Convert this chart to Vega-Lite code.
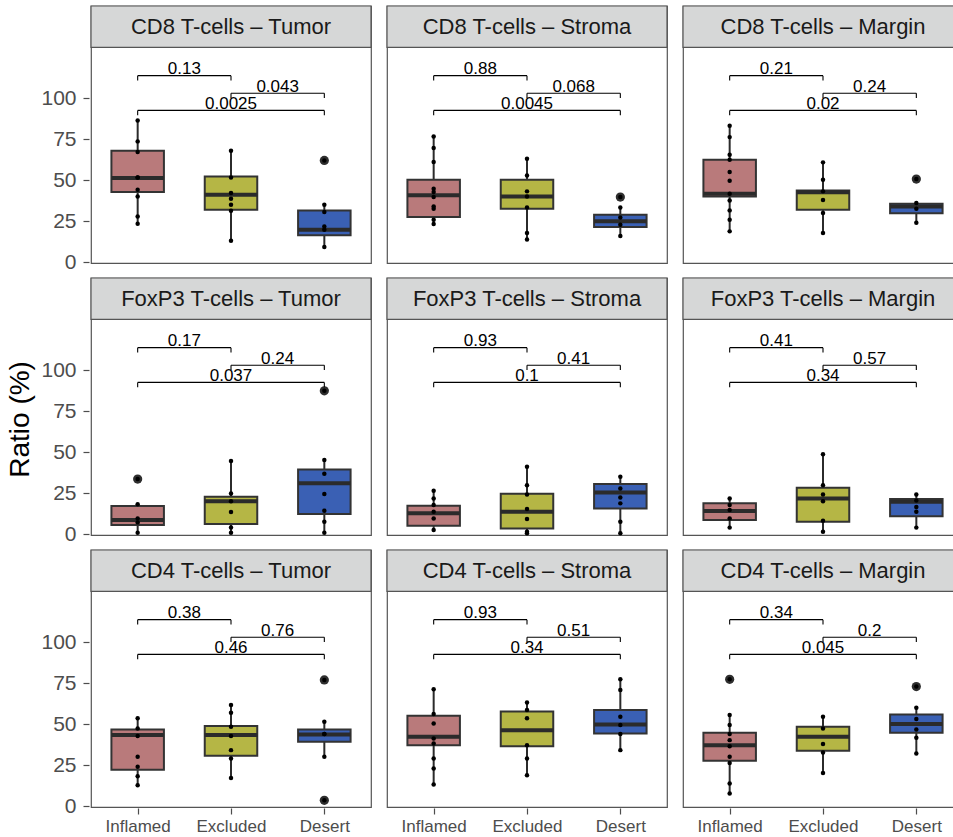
{
  "$schema": "https://vega.github.io/schema/vega-lite/v6.json",
  "background": "white",
  "padding": {"left": 6, "top": 4, "right": 0, "bottom": 0},
  "title": {"text": "Ratio (%)", "orient": "left", "anchor": "middle", "fontSize": 28, "fontWeight": "normal", "color": "#000000", "offset": 6},
  "data": {
    "values": [
      {"panel": "CD8 T-cells – Tumor", "kind": "box", "group": "Inflamed", "lower": 23.4, "q1": 42.7, "median": 51.2, "q3": 67.9, "upper": 86.4, "points": [86.4, 73.6, 67.1, 51.6, 51.6, 44.1, 40.0, 27.8, 23.4], "outliers": []},
      {"panel": "CD8 T-cells – Tumor", "kind": "box", "group": "Excluded", "lower": 13.0, "q1": 31.9, "median": 41.1, "q3": 52.2, "upper": 67.9, "points": [67.9, 51.6, 42.1, 38.6, 35.0, 31.3, 13.0], "outliers": []},
      {"panel": "CD8 T-cells – Tumor", "kind": "box", "group": "Desert", "lower": 9.1, "q1": 16.3, "median": 19.7, "q3": 31.5, "upper": 35.0, "points": [62.0, 35.0, 30.5, 21.7, 19.7, 9.1], "outliers": [62.0]},

      {"panel": "CD8 T-cells – Stroma", "kind": "box", "group": "Inflamed", "lower": 23.2, "q1": 27.4, "median": 40.7, "q3": 50.2, "upper": 76.6, "points": [76.6, 69.5, 61.0, 44.7, 42.7, 39.6, 33.9, 32.5, 25.8, 23.2], "outliers": []},
      {"panel": "CD8 T-cells – Stroma", "kind": "box", "group": "Excluded", "lower": 13.8, "q1": 32.5, "median": 40.0, "q3": 50.2, "upper": 63.0, "points": [63.0, 52.8, 43.1, 40.0, 33.3, 17.7, 13.8], "outliers": []},
      {"panel": "CD8 T-cells – Stroma", "kind": "box", "group": "Desert", "lower": 15.9, "q1": 21.3, "median": 24.8, "q3": 28.9, "upper": 33.3, "points": [39.6, 33.3, 27.2, 22.8, 15.9], "outliers": [39.6]},

      {"panel": "CD8 T-cells – Margin", "kind": "box", "group": "Inflamed", "lower": 18.7, "q1": 40.0, "median": 41.7, "q3": 62.4, "upper": 83.1, "points": [83.1, 76.2, 65.4, 62.4, 54.9, 49.6, 41.7, 37.6, 31.5, 25.8, 18.7], "outliers": []},
      {"panel": "CD8 T-cells – Margin", "kind": "box", "group": "Excluded", "lower": 17.7, "q1": 31.9, "median": 42.5, "q3": 43.7, "upper": 60.8, "points": [60.8, 50.2, 43.1, 37.8, 29.9, 17.7], "outliers": []},
      {"panel": "CD8 T-cells – Margin", "kind": "box", "group": "Desert", "lower": 24.0, "q1": 29.7, "median": 33.9, "q3": 35.6, "upper": 36.0, "points": [50.6, 36.0, 32.5, 24.0], "outliers": [50.6]},

      {"panel": "FoxP3 T-cells – Tumor", "kind": "box", "group": "Inflamed", "lower": 0.8, "q1": 5.5, "median": 8.5, "q3": 17.1, "upper": 18.1, "points": [33.5, 18.1, 9.5, 7.1, 0.8], "outliers": [33.5]},
      {"panel": "FoxP3 T-cells – Tumor", "kind": "box", "group": "Excluded", "lower": 0.8, "q1": 6.1, "median": 20.0, "q3": 22.8, "upper": 44.5, "points": [44.5, 24.7, 20.0, 13.4, 4.0, 0.8], "outliers": []},
      {"panel": "FoxP3 T-cells – Tumor", "kind": "box", "group": "Desert", "lower": 0.8, "q1": 12.2, "median": 30.9, "q3": 39.4, "upper": 45.1, "points": [87.4, 45.1, 36.8, 24.4, 14.2, 7.5, 0.8], "outliers": [87.4]},

      {"panel": "FoxP3 T-cells – Stroma", "kind": "box", "group": "Inflamed", "lower": 2.4, "q1": 5.1, "median": 12.6, "q3": 17.3, "upper": 26.4, "points": [26.4, 21.7, 17.7, 13.6, 9.5, 2.4], "outliers": []},
      {"panel": "FoxP3 T-cells – Stroma", "kind": "box", "group": "Excluded", "lower": 0.4, "q1": 3.4, "median": 13.6, "q3": 24.5, "upper": 41.0, "points": [41.0, 29.8, 24.1, 15.2, 9.1, 1.4, 0.4], "outliers": []},
      {"panel": "FoxP3 T-cells – Stroma", "kind": "box", "group": "Desert", "lower": 0.4, "q1": 15.6, "median": 25.4, "q3": 30.5, "upper": 35.0, "points": [35.0, 27.8, 22.3, 18.7, 7.5, 0.4], "outliers": []},

      {"panel": "FoxP3 T-cells – Margin", "kind": "box", "group": "Inflamed", "lower": 3.9, "q1": 8.5, "median": 14.0, "q3": 18.7, "upper": 21.7, "points": [21.7, 17.7, 14.6, 9.5, 3.9], "outliers": []},
      {"panel": "FoxP3 T-cells – Margin", "kind": "box", "group": "Excluded", "lower": 1.4, "q1": 7.5, "median": 21.7, "q3": 28.2, "upper": 48.7, "points": [48.7, 29.8, 24.1, 20.0, 8.1, 1.4], "outliers": []},
      {"panel": "FoxP3 T-cells – Margin", "kind": "box", "group": "Desert", "lower": 3.9, "q1": 10.9, "median": 19.7, "q3": 21.3, "upper": 24.1, "points": [24.1, 20.5, 16.5, 13.6, 3.9], "outliers": []},

      {"panel": "CD4 T-cells – Tumor", "kind": "box", "group": "Inflamed", "lower": 12.7, "q1": 22.2, "median": 43.3, "q3": 46.7, "upper": 53.5, "points": [53.5, 47.3, 42.7, 30.0, 23.9, 18.2, 12.7], "outliers": []},
      {"panel": "CD4 T-cells – Tumor", "kind": "box", "group": "Excluded", "lower": 17.1, "q1": 30.6, "median": 43.3, "q3": 48.8, "upper": 61.6, "points": [61.6, 56.9, 48.4, 42.7, 34.1, 29.0, 17.1], "outliers": []},
      {"panel": "CD4 T-cells – Tumor", "kind": "box", "group": "Desert", "lower": 30.0, "q1": 39.2, "median": 43.7, "q3": 46.7, "upper": 51.4, "points": [76.9, 51.4, 43.9, 43.9, 30.0, 3.5], "outliers": [76.9, 3.5]},

      {"panel": "CD4 T-cells – Stroma", "kind": "box", "group": "Inflamed", "lower": 13.1, "q1": 37.1, "median": 42.2, "q3": 55.1, "upper": 71.2, "points": [71.2, 56.1, 50.4, 41.2, 38.2, 29.0, 22.9, 13.1], "outliers": []},
      {"panel": "CD4 T-cells – Stroma", "kind": "box", "group": "Excluded", "lower": 18.8, "q1": 36.5, "median": 46.3, "q3": 57.6, "upper": 63.1, "points": [63.1, 58.6, 53.5, 37.1, 29.0, 18.8], "outliers": []},
      {"panel": "CD4 T-cells – Stroma", "kind": "box", "group": "Desert", "lower": 34.1, "q1": 44.3, "median": 49.8, "q3": 58.6, "upper": 77.3, "points": [77.3, 70.8, 54.5, 49.4, 43.9, 34.1], "outliers": []},

      {"panel": "CD4 T-cells – Margin", "kind": "box", "group": "Inflamed", "lower": 7.6, "q1": 27.6, "median": 37.1, "q3": 44.7, "upper": 55.5, "points": [77.3, 55.5, 49.4, 43.9, 40.2, 36.5, 30.0, 26.3, 13.7, 7.6], "outliers": [77.3]},
      {"panel": "CD4 T-cells – Margin", "kind": "box", "group": "Excluded", "lower": 20.2, "q1": 33.7, "median": 42.2, "q3": 48.4, "upper": 54.5, "points": [54.5, 47.3, 37.8, 32.7, 20.2], "outliers": []},
      {"panel": "CD4 T-cells – Margin", "kind": "box", "group": "Desert", "lower": 32.0, "q1": 44.7, "median": 50.0, "q3": 55.9, "upper": 60.0, "points": [72.9, 60.0, 53.1, 46.7, 41.6, 32.0], "outliers": [72.9]},

      {"panel": "CD8 T-cells – Tumor", "kind": "br", "from": "Inflamed", "to": "Excluded", "mid": "Inflamed vs Excluded", "ypos": 113.7, "yend": 110.7, "label": "0.13"},
      {"panel": "CD8 T-cells – Tumor", "kind": "br", "from": "Excluded", "to": "Desert", "mid": "Excluded vs Desert", "ypos": 103.0, "yend": 100.0, "label": "0.043"},
      {"panel": "CD8 T-cells – Tumor", "kind": "br", "from": "Inflamed", "to": "Desert", "mid": "Excluded", "ypos": 92.5, "yend": 89.5, "label": "0.0025"},
      {"panel": "CD8 T-cells – Stroma", "kind": "br", "from": "Inflamed", "to": "Excluded", "mid": "Inflamed vs Excluded", "ypos": 113.7, "yend": 110.7, "label": "0.88"},
      {"panel": "CD8 T-cells – Stroma", "kind": "br", "from": "Excluded", "to": "Desert", "mid": "Excluded vs Desert", "ypos": 103.0, "yend": 100.0, "label": "0.068"},
      {"panel": "CD8 T-cells – Stroma", "kind": "br", "from": "Inflamed", "to": "Desert", "mid": "Excluded", "ypos": 92.5, "yend": 89.5, "label": "0.0045"},
      {"panel": "CD8 T-cells – Margin", "kind": "br", "from": "Inflamed", "to": "Excluded", "mid": "Inflamed vs Excluded", "ypos": 113.7, "yend": 110.7, "label": "0.21"},
      {"panel": "CD8 T-cells – Margin", "kind": "br", "from": "Excluded", "to": "Desert", "mid": "Excluded vs Desert", "ypos": 103.0, "yend": 100.0, "label": "0.24"},
      {"panel": "CD8 T-cells – Margin", "kind": "br", "from": "Inflamed", "to": "Desert", "mid": "Excluded", "ypos": 92.5, "yend": 89.5, "label": "0.02"},
      {"panel": "FoxP3 T-cells – Tumor", "kind": "br", "from": "Inflamed", "to": "Excluded", "mid": "Inflamed vs Excluded", "ypos": 113.7, "yend": 110.7, "label": "0.17"},
      {"panel": "FoxP3 T-cells – Tumor", "kind": "br", "from": "Excluded", "to": "Desert", "mid": "Excluded vs Desert", "ypos": 103.0, "yend": 100.0, "label": "0.24"},
      {"panel": "FoxP3 T-cells – Tumor", "kind": "br", "from": "Inflamed", "to": "Desert", "mid": "Excluded", "ypos": 92.5, "yend": 89.5, "label": "0.037"},
      {"panel": "FoxP3 T-cells – Stroma", "kind": "br", "from": "Inflamed", "to": "Excluded", "mid": "Inflamed vs Excluded", "ypos": 113.7, "yend": 110.7, "label": "0.93"},
      {"panel": "FoxP3 T-cells – Stroma", "kind": "br", "from": "Excluded", "to": "Desert", "mid": "Excluded vs Desert", "ypos": 103.0, "yend": 100.0, "label": "0.41"},
      {"panel": "FoxP3 T-cells – Stroma", "kind": "br", "from": "Inflamed", "to": "Desert", "mid": "Excluded", "ypos": 92.5, "yend": 89.5, "label": "0.1"},
      {"panel": "FoxP3 T-cells – Margin", "kind": "br", "from": "Inflamed", "to": "Excluded", "mid": "Inflamed vs Excluded", "ypos": 113.7, "yend": 110.7, "label": "0.41"},
      {"panel": "FoxP3 T-cells – Margin", "kind": "br", "from": "Excluded", "to": "Desert", "mid": "Excluded vs Desert", "ypos": 103.0, "yend": 100.0, "label": "0.57"},
      {"panel": "FoxP3 T-cells – Margin", "kind": "br", "from": "Inflamed", "to": "Desert", "mid": "Excluded", "ypos": 92.5, "yend": 89.5, "label": "0.34"},
      {"panel": "CD4 T-cells – Tumor", "kind": "br", "from": "Inflamed", "to": "Excluded", "mid": "Inflamed vs Excluded", "ypos": 113.7, "yend": 110.7, "label": "0.38"},
      {"panel": "CD4 T-cells – Tumor", "kind": "br", "from": "Excluded", "to": "Desert", "mid": "Excluded vs Desert", "ypos": 103.0, "yend": 100.0, "label": "0.76"},
      {"panel": "CD4 T-cells – Tumor", "kind": "br", "from": "Inflamed", "to": "Desert", "mid": "Excluded", "ypos": 92.5, "yend": 89.5, "label": "0.46"},
      {"panel": "CD4 T-cells – Stroma", "kind": "br", "from": "Inflamed", "to": "Excluded", "mid": "Inflamed vs Excluded", "ypos": 113.7, "yend": 110.7, "label": "0.93"},
      {"panel": "CD4 T-cells – Stroma", "kind": "br", "from": "Excluded", "to": "Desert", "mid": "Excluded vs Desert", "ypos": 103.0, "yend": 100.0, "label": "0.51"},
      {"panel": "CD4 T-cells – Stroma", "kind": "br", "from": "Inflamed", "to": "Desert", "mid": "Excluded", "ypos": 92.5, "yend": 89.5, "label": "0.34"},
      {"panel": "CD4 T-cells – Margin", "kind": "br", "from": "Inflamed", "to": "Excluded", "mid": "Inflamed vs Excluded", "ypos": 113.7, "yend": 110.7, "label": "0.34"},
      {"panel": "CD4 T-cells – Margin", "kind": "br", "from": "Excluded", "to": "Desert", "mid": "Excluded vs Desert", "ypos": 103.0, "yend": 100.0, "label": "0.2"},
      {"panel": "CD4 T-cells – Margin", "kind": "br", "from": "Inflamed", "to": "Desert", "mid": "Excluded", "ypos": 92.5, "yend": 89.5, "label": "0.045"}
    ]
  },
  "facet": {
    "field": "panel",
    "type": "nominal",
    "sort": ["CD8 T-cells – Tumor", "CD8 T-cells – Stroma", "CD8 T-cells – Margin", "FoxP3 T-cells – Tumor", "FoxP3 T-cells – Stroma", "FoxP3 T-cells – Margin", "CD4 T-cells – Tumor", "CD4 T-cells – Stroma", "CD4 T-cells – Margin"],
    "header": {"title": null, "labels": false, "labelFontSize": 0, "labelPadding": 0, "labelExpr": "''"}
  },
  "columns": 3,
  "spacing": {"row": 11, "column": 12},
  "spec": {
    "width": 280,
    "height": 257,
    "layer": [
      {
        "transform": [{"filter": "datum.kind == 'box' && datum.group == 'Inflamed'"}],
        "mark": {"type": "rect", "fill": "#d6d7d7", "stroke": "#555555", "strokeWidth": 1.2},
        "encoding": {
          "y": {"datum": 131, "type": "quantitative",
                "scale": {"domain": [-0.6, 156.2], "nice": false, "zero": false},
                "axis": {"values": [0, 25, 50, 75, 100], "title": null, "labelFontSize": 21, "labelPadding": 7}},
          "y2": {"datum": 156.2}
        }
      },
      {
        "transform": [{"filter": "datum.kind == 'box' && datum.group == 'Inflamed'"}],
        "mark": {"type": "text", "fontSize": 22, "color": "#1a1a1a", "baseline": "middle", "align": "center"},
        "encoding": {
          "y": {"datum": 143.6, "type": "quantitative"},
          "text": {"field": "panel", "type": "nominal"}
        }
      },
      {
        "transform": [{"filter": "datum.kind == 'box'"}],
        "mark": {"type": "rule", "color": "#2b2b2b", "strokeWidth": 2},
        "encoding": {
          "x": {"field": "group", "type": "nominal",
                "scale": {"type": "point", "domain": ["Inflamed", "Inflamed vs Excluded", "Excluded", "Excluded vs Desert", "Desert"], "padding": 1.2},
                "axis": {"values": ["Inflamed", "Excluded", "Desert"], "title": null, "labelAngle": 0, "labelFontSize": 17, "labelPadding": 4}},
          "y": {"field": "lower", "type": "quantitative"},
          "y2": {"field": "upper"}
        }
      },
      {
        "transform": [{"filter": "datum.kind == 'box'"}],
        "mark": {"type": "bar", "width": 52.5, "stroke": "#333333", "strokeWidth": 2, "opacity": 1},
        "encoding": {
          "x": {"field": "group", "type": "nominal"},
          "y": {"field": "q1", "type": "quantitative"},
          "y2": {"field": "q3"},
          "fill": {"field": "group", "type": "nominal",
                   "scale": {"domain": ["Inflamed", "Excluded", "Desert"], "range": ["#b97a7b", "#b5b645", "#3a60b4"]},
                   "legend": null}
        }
      },
      {
        "transform": [{"filter": "datum.kind == 'box'"}],
        "mark": {"type": "tick", "orient": "horizontal", "size": 52.5, "thickness": 4, "color": "#2b2b2b", "opacity": 1},
        "encoding": {
          "x": {"field": "group", "type": "nominal"},
          "y": {"field": "median", "type": "quantitative"}
        }
      },
      {
        "transform": [{"filter": "datum.kind == 'box'"}, {"flatten": ["outliers"]}],
        "mark": {"type": "circle", "size": 85, "color": "#2e2e2e", "opacity": 1},
        "encoding": {
          "x": {"field": "group", "type": "nominal"},
          "y": {"field": "outliers", "type": "quantitative"}
        }
      },
      {
        "transform": [{"filter": "datum.kind == 'box'"}, {"flatten": ["points"]}],
        "mark": {"type": "circle", "size": 20, "color": "#000000", "opacity": 1},
        "encoding": {
          "x": {"field": "group", "type": "nominal"},
          "y": {"field": "points", "type": "quantitative"}
        }
      },
      {
        "transform": [{"filter": "datum.kind == 'br'"}],
        "mark": {"type": "rule", "color": "#000000", "strokeWidth": 1.1},
        "encoding": {
          "x": {"field": "from", "type": "nominal"},
          "x2": {"field": "to"},
          "y": {"field": "ypos", "type": "quantitative"}
        }
      },
      {
        "transform": [{"filter": "datum.kind == 'br'"}],
        "mark": {"type": "rule", "color": "#000000", "strokeWidth": 1.1},
        "encoding": {
          "x": {"field": "from", "type": "nominal"},
          "y": {"field": "ypos", "type": "quantitative"},
          "y2": {"field": "yend"}
        }
      },
      {
        "transform": [{"filter": "datum.kind == 'br'"}],
        "mark": {"type": "rule", "color": "#000000", "strokeWidth": 1.1},
        "encoding": {
          "x": {"field": "to", "type": "nominal"},
          "y": {"field": "ypos", "type": "quantitative"},
          "y2": {"field": "yend"}
        }
      },
      {
        "transform": [{"filter": "datum.kind == 'br'"}],
        "mark": {"type": "text", "fontSize": 17, "color": "#000000", "baseline": "alphabetic", "dy": -1.5},
        "encoding": {
          "x": {"field": "mid", "type": "nominal"},
          "y": {"field": "ypos", "type": "quantitative"},
          "text": {"field": "label", "type": "nominal"}
        }
      }
    ]
  },
  "config": {
    "font": "Liberation Sans",
    "view": {"stroke": "#555555", "strokeWidth": 1.2},
    "title": {"fontSize": 28, "fontWeight": "normal"},
    "header": {"labels": false, "title": null, "labelFontSize": 0, "labelPadding": 0},
    "headerFacet": {"labels": false, "title": null, "labelFontSize": 0, "labelPadding": 0},
    "axis": {"grid": false, "domain": false, "tickColor": "#4d4d4d", "tickWidth": 1.2, "tickSize": 6, "labelColor": "#4d4d4d", "labelFont": "Liberation Sans"}
  }
}
